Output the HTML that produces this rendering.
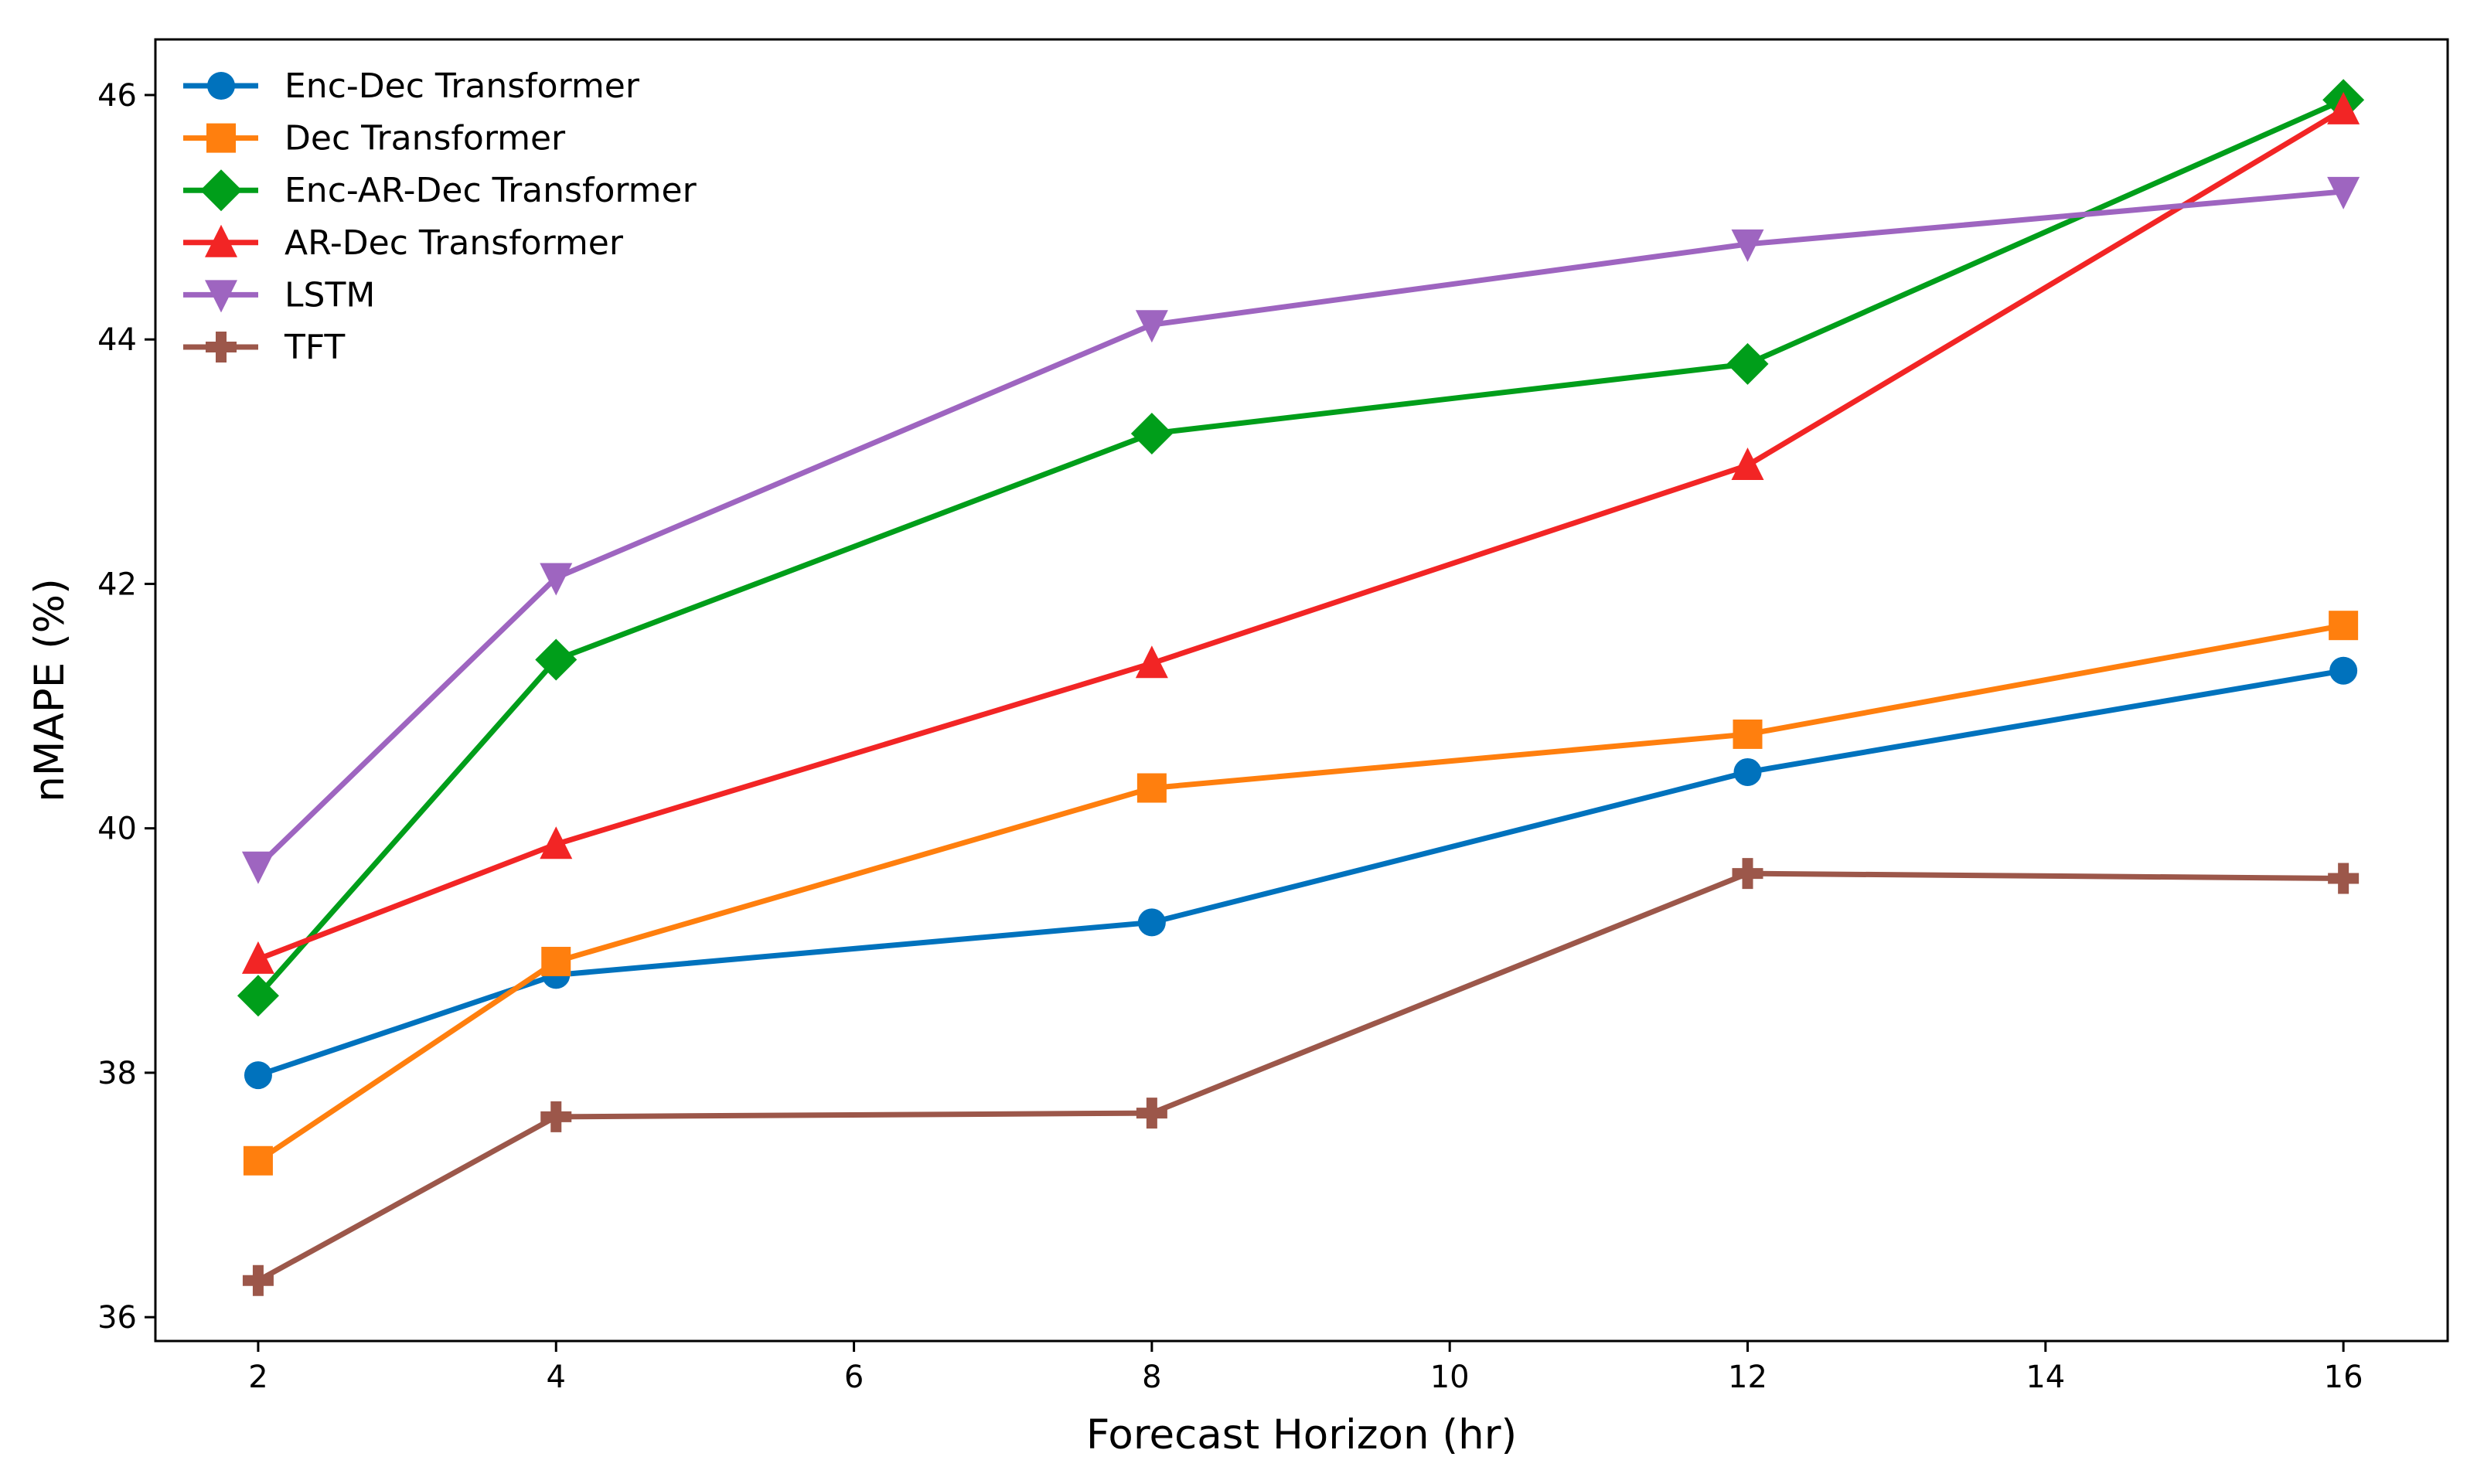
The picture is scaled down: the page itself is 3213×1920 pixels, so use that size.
<!DOCTYPE html>
<html><head><meta charset="utf-8"><style>
html,body{margin:0;padding:0;background:#fff;}
svg text{font-family:"DejaVu Sans","Liberation Sans",sans-serif;fill:#000;}
</style></head><body>
<svg id="chart" width="3213" height="1915" viewBox="0 0 3213 1915" xmlns="http://www.w3.org/2000/svg"></svg>
<script>
const horizons = [2, 4, 8, 12, 16];
const seriesNames = ["Enc-Dec Transformer","Dec Transformer","Enc-AR-Dec Transformer","AR-Dec Transformer","LSTM","TFT"];
const encDec = [37.98, 38.80, 39.23, 40.46, 41.29];
const decT = [37.28, 38.91, 40.33, 40.77, 41.66];
const encArDec = [38.63, 41.38, 43.23, 43.80, 45.96];
const arDec = [38.93, 39.87, 41.35, 42.97, 45.88];
const lstm = [39.69, 42.05, 44.12, 44.78, 45.21];
const tft = [36.30, 37.64, 37.67, 39.63, 39.59];
const xTicks = [2, 4, 6, 8, 10, 12, 14, 16];
const yTicks = [36, 38, 40, 42, 44, 46];

const colors = ["#0072bd","#ff7f0e","#009e1a","#f22525","#9e65c0","#9c574a"];
const markers = ["circle","square","diamond","triUp","triDown","plus"];
const seriesData = [encDec, decT, encArDec, arDec, lstm, tft];

const L=201,R=3166,T=51,B=1735;
const xMin=1.31,xMax=16.70,yMin=35.805,yMax=46.455;
const sx=v=>L+(v-xMin)/(xMax-xMin)*(R-L);
const sy=v=>B-(v-yMin)/(yMax-yMin)*(B-T);
const NS="http://www.w3.org/2000/svg";
const svg=document.getElementById('chart');
function mk(tag,attrs,parent){const e=document.createElementNS(NS,tag);for(const k in attrs)e.setAttribute(k,attrs[k]);(parent||svg).appendChild(e);return e;}

function marker(type,x,y,color,g){
  let e;
  if(type==="circle") e=mk('circle',{cx:x,cy:y,r:18,fill:color},g);
  else if(type==="square") e=mk('rect',{x:x-19,y:y-19,width:38,height:38,fill:color},g);
  else if(type==="diamond") e=mk('polygon',{points:`${x},${y-27} ${x+27},${y} ${x},${y+27} ${x-27},${y}`,fill:color},g);
  else if(type==="triUp") e=mk('polygon',{points:`${x},${y-23} ${x+21},${y+19} ${x-21},${y+19}`,fill:color},g);
  else if(type==="triDown") e=mk('polygon',{points:`${x},${y+23} ${x+21},${y-19} ${x-21},${y-19}`,fill:color},g);
  else e=mk('path',{d:`M${x-7},${y-20}h14v13h13v14h-13v13h-14v-13h-13v-14h13z`,fill:color},g);
  return e;
}

const frame=mk('rect',{x:L,y:T,width:R-L,height:B-T,fill:'none',stroke:'#000','stroke-width':3});



xTicks.forEach(t=>{
  const g=mk('g',{});
  
  
  mk('line',{x1:sx(t),x2:sx(t),y1:B,y2:B+14,stroke:'#000','stroke-width':3},g);
  const tx=mk('text',{x:sx(t),y:B+60,'font-size':40,'text-anchor':'middle'},g);tx.textContent=t;
});
yTicks.forEach(t=>{
  const g=mk('g',{});
  
  
  mk('line',{x1:L-14,x2:L,y1:sy(t),y2:sy(t),stroke:'#000','stroke-width':3},g);
  const tx=mk('text',{x:L-24,y:sy(t)+14,'font-size':40,'text-anchor':'end'},g);tx.textContent=t;
});
const xt=mk('text',{x:(L+R)/2,y:1874,'font-size':53,'text-anchor':'middle'});
xt.textContent='Forecast Horizon (hr)';


const yt=mk('text',{x:0,y:0,'font-size':53,'text-anchor':'middle',transform:`translate(82,${(T+B)/2}) rotate(-90)`});
yt.textContent='nMAPE (%)';



seriesData.forEach((vals,i)=>{
  const g=mk('g',{});
  
  
  const pts=vals.map((v,j)=>sx(horizons[j])+','+sy(v)).join(' ');
  mk('polyline',{points:pts,fill:'none',stroke:colors[i],'stroke-width':7,'stroke-linejoin':'round'},g);
  vals.forEach((v,j)=>{
    const m=marker(markers[i],sx(horizons[j]),sy(v),colors[i],g);
    
    
  });
});

const lg=mk('g',{});


seriesNames.forEach((n,i)=>{
  const y=111+i*67.6;
  const g=mk('g',{},lg);
  
  
  mk('line',{x1:237,x2:334,y1:y,y2:y,stroke:colors[i],'stroke-width':7},g);
  marker(markers[i],286,y,colors[i],g);
  const t=mk('text',{x:368,y:y+15,'font-size':44},g);t.textContent=n;
});
</script>
</body></html>
